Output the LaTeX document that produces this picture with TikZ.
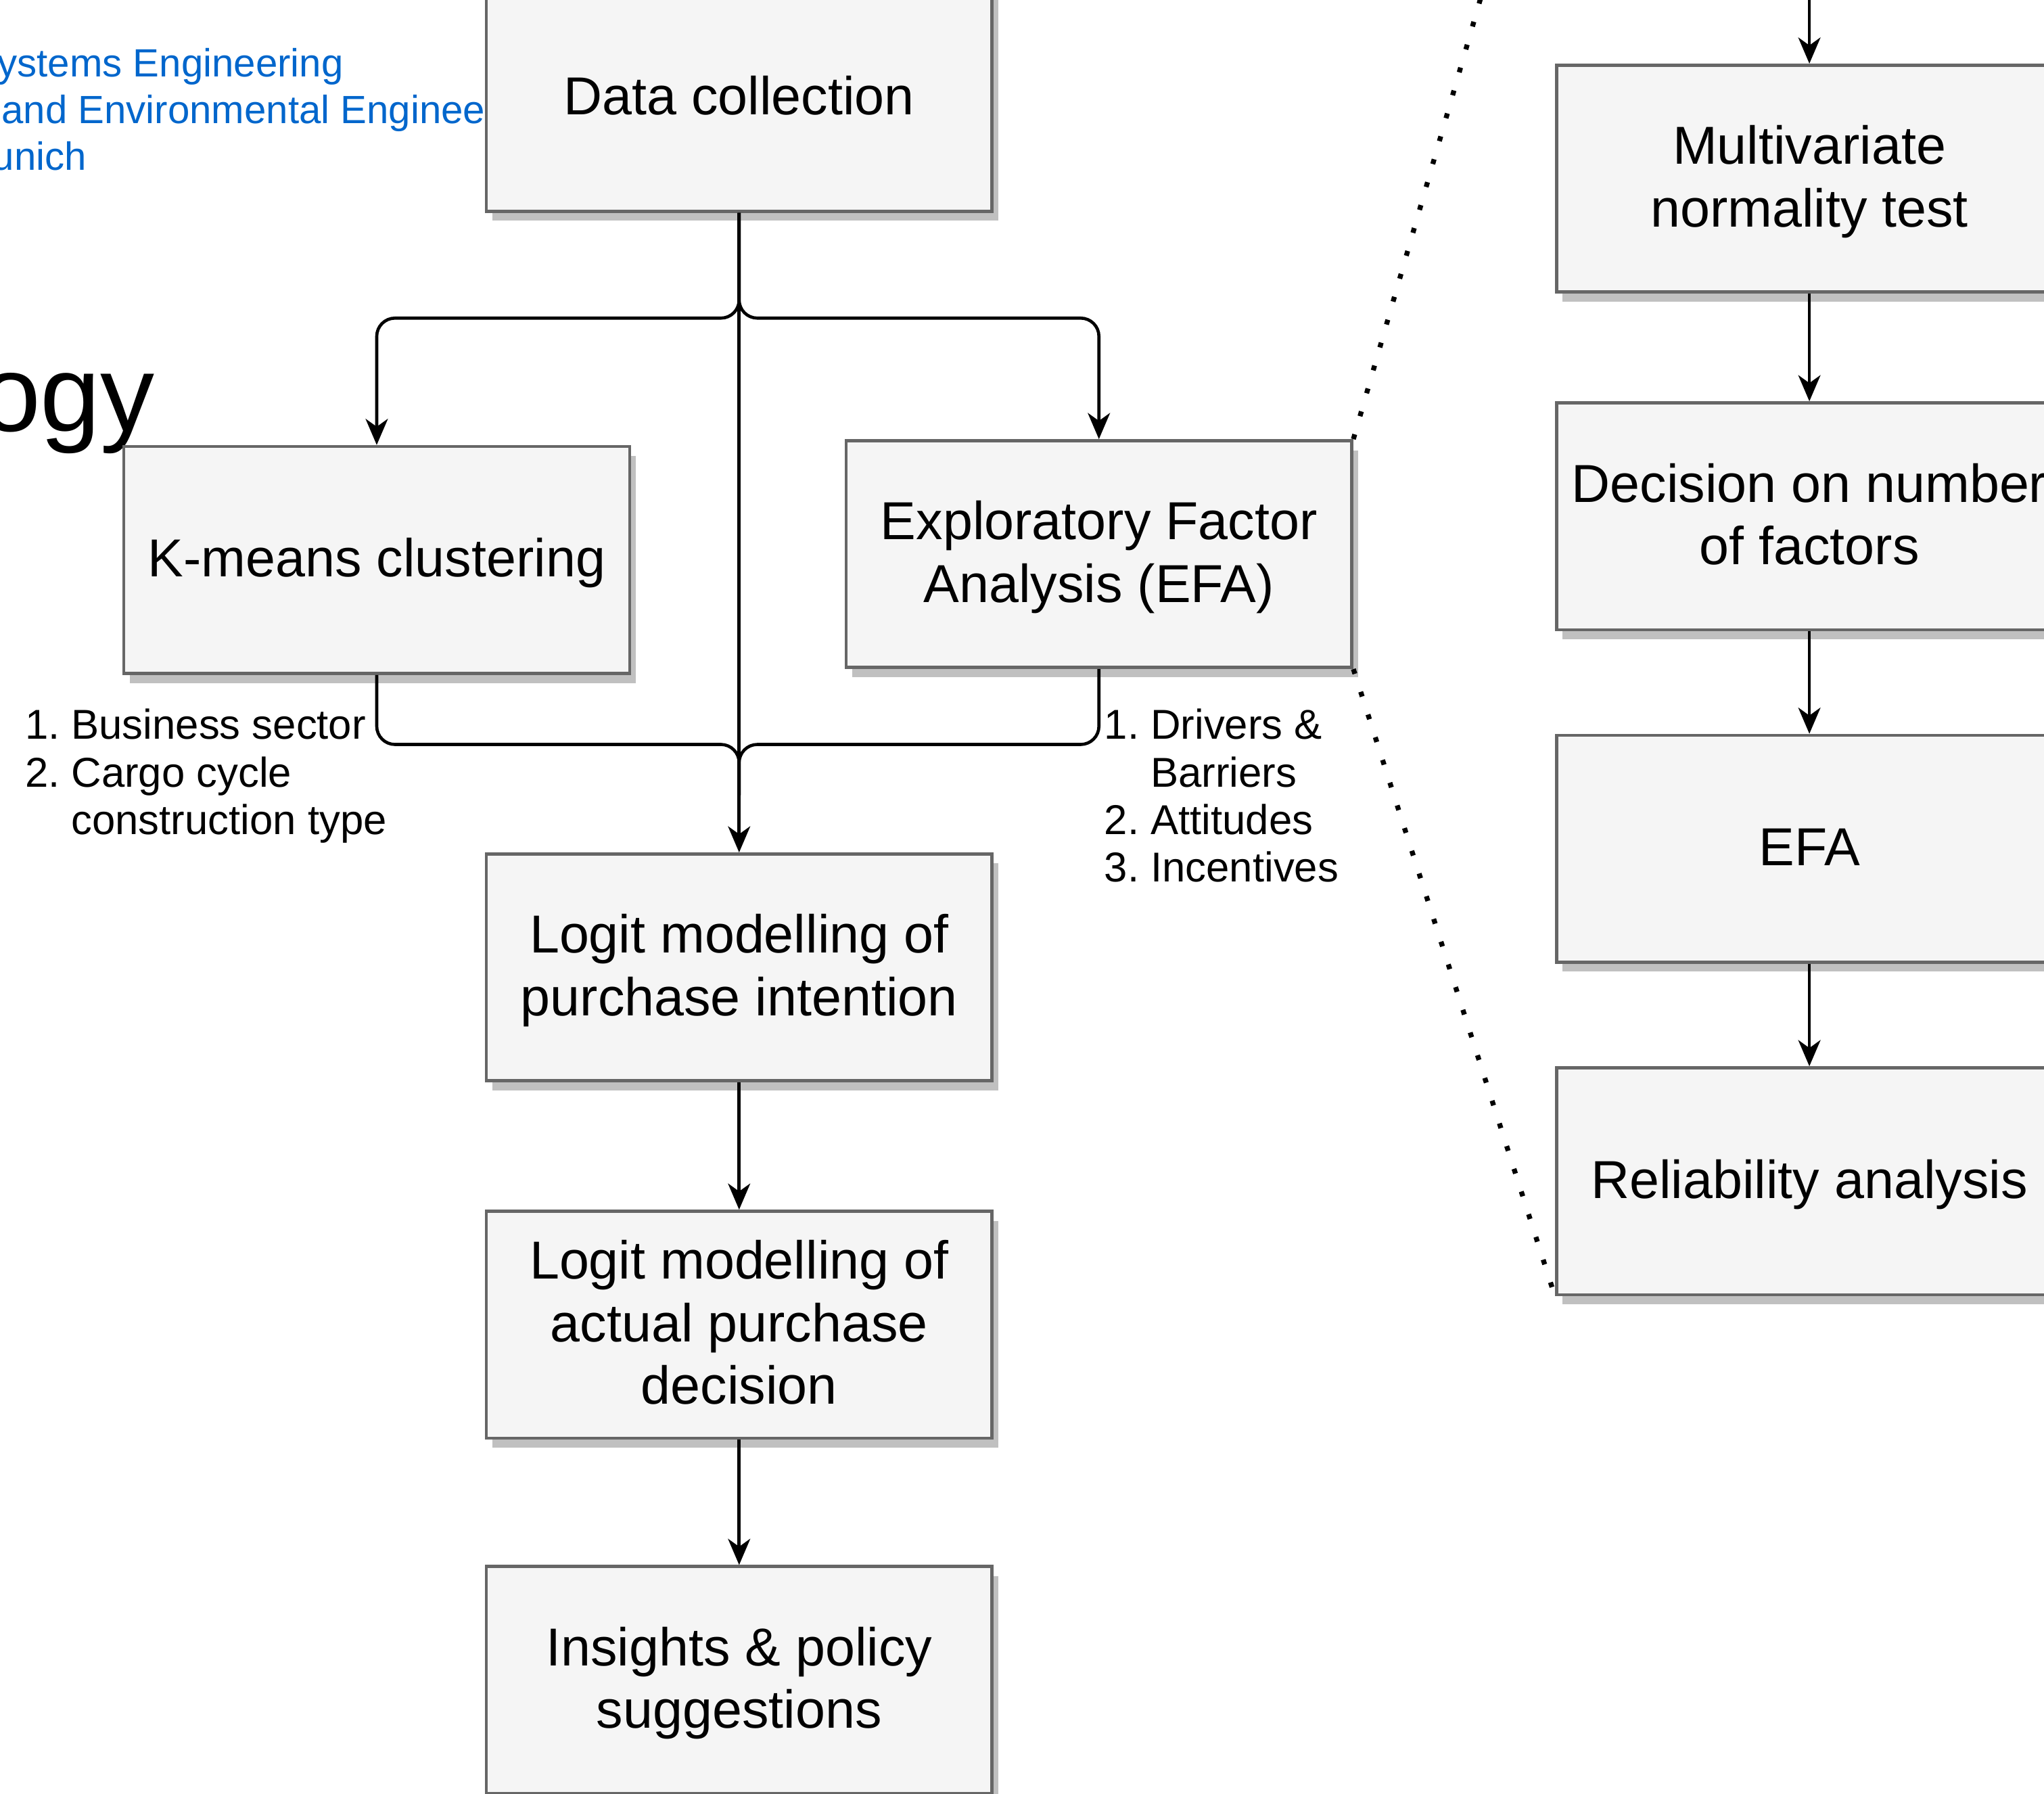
\documentclass[tikz,border=0pt]{standalone}
\usepackage{fontspec}
\setmainfont{Liberation Sans}
\usetikzlibrary{arrows.meta,shadows}
\definecolor{boxfill}{HTML}{F5F5F5}
\definecolor{boxline}{HTML}{666666}
\definecolor{shadowgray}{HTML}{C0C0C0}
\definecolor{tumblue}{HTML}{0066CC}
\newcommand\btext[1]{\raisebox{-3.4pt}[\height][\depth]{\begin{tabular}{@{}c@{}}#1\end{tabular}}}
\begin{document}
\begin{tikzpicture}[x=1pt,y=-1pt,
  stepbox/.style={draw=boxline, fill=boxfill, line width=2.4pt,
    minimum width=388pt, minimum height=174pt, inner sep=0pt,
    font=\fontsize{41}{48}\selectfont,
    drop shadow={shadow xshift=4.7pt, shadow yshift=-7.3pt, fill=shadowgray, opacity=1}},
  conn/.style={line width=2.4pt, -{Stealth[length=20pt,width=17pt,inset=6pt]}},
  plainline/.style={line width=2.4pt},
  zoomline/.style={line width=3.8pt, dash pattern=on 3.8pt off 14.5pt},
  lbl/.style={inner sep=0pt, font=\fontsize{32}{36.5}\selectfont, anchor=base west},
  bluetext/.style={inner sep=0pt, text=tumblue, font=\fontsize{30.2}{36}\selectfont, anchor=base west}
]
\useasboundingbox (0,0) rectangle (1568,1376);
\clip (0,0) rectangle (1568,1376);

% background texts
\node[bluetext] (b1) at (-2,58.8) {ystems Engineering};
\node[bluetext] (b2) at (1,94.8) {and Environmental Enginee};
\node[bluetext] (b3) at (-6,130.6) {unich};
\node[inner sep=0pt, anchor=base east, font=\fontsize{83}{90}\selectfont] (title) at (119,331) {ogy};

% main column
\node[stepbox] (data) at (567,75) {\btext{Data collection}};
\node[stepbox] (kmeans) at (289,429.5) {\btext{K-means clustering}};
\node[stepbox] (efa) at (843,425) {\btext{Exploratory Factor\\Analysis (EFA)}};
\node[stepbox] (logit1) at (567,742) {\btext{Logit modelling of\\purchase intention}};
\node[stepbox] (logit2) at (567,1016) {\btext{Logit modelling of\\actual purchase\\decision}};
\node[stepbox] (ins) at (567,1288.5) {\btext{Insights \& policy\\suggestions}};

% right column
\node[stepbox] (mvn) at (1388,137) {\btext{Multivariate\\normality test}};
\node[stepbox] (dec) at (1388,396) {\btext{Decision on number\\of factors}};
\node[stepbox] (efa2) at (1388,651) {\btext{EFA}};
\node[stepbox] (rel) at (1388,906) {\btext{Reliability analysis}};

% labels
\node[lbl] (lab1) at (19,567) {\begin{tabular}[t]{@{}l@{\ }l@{}}1. & Business sector\\2. & Cargo cycle\\ & construction type\end{tabular}};
\node[lbl] (lab2) at (847,567) {\begin{tabular}[t]{@{}l@{\ }l@{}}1. & Drivers \&\\ & Barriers\\2. & Attitudes\\3. & Incentives\end{tabular}};

% helper coordinates
\coordinate (tb) at (567,244);
\coordinate (bm) at (567,571);
\coordinate (bm2) at (567,610);
\coordinate (prev) at (1388,-32);
\coordinate (ztop) at (1194,-203);

% connectors
\draw[conn] (data.south) -- (logit1.north);
\draw[conn, rounded corners=14pt] (data.south) -- (tb) -| (kmeans.north);
\draw[conn, rounded corners=14pt] (data.south) -- (tb) -| (efa.north);
\draw[plainline, rounded corners=14pt] (kmeans.south) |- (bm) -- (bm2);
\draw[plainline, rounded corners=14pt] (efa.south) |- (bm) -- (bm2);
\draw[conn] (logit1.south) -- (logit2.north);
\draw[conn] (logit2.south) -- (ins.north);

\draw[conn] (prev) -- (mvn.north);
\draw[conn] (mvn.south) -- (dec.north);
\draw[conn] (dec.south) -- (efa2.north);
\draw[conn] (efa2.south) -- (rel.north);

% zoom lines
\draw[zoomline] (efa.north east) -- (ztop);
\draw[zoomline] (efa.south east) -- (rel.south west);
\end{tikzpicture}
\end{document}
